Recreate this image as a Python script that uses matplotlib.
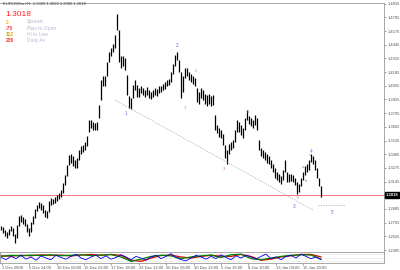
import matplotlib
matplotlib.use("Agg")
import matplotlib.pyplot as plt
import numpy as np

plt.rcParams['font.family'] = ['Liberation Sans', 'DejaVu Sans']

# ---- price bars (H1, sampled) ----
highs = [1.2723,1.2714,1.2685,1.2666,1.2695,1.2723,1.2704,1.2647,1.2733,1.2818,
         1.2828,1.2809,1.2790,1.2742,1.2704,1.2761,1.2818,1.2885,1.2923,1.2951,
         1.2942,1.2923,1.2875,1.2866,1.2961,1.2989,1.2980,1.2999,1.3018,1.3037,
         1.3065,1.3132,1.3208,1.3303,1.3398,1.3407,1.3388,1.3350,1.3369,1.3445,
         1.3483,1.3493,1.3521,1.3578,1.3730,1.3730,1.3711,1.3702,1.3711,1.3873,
         1.4110,1.4148,1.4148,1.4281,1.4376,1.4414,1.4452,1.4538,1.4737,1.4585,
         1.4338,1.4338,1.4319,1.4158,1.3958,1.3939,1.4063,1.4110,1.4063,1.4034,
         1.4053,1.4034,1.4015,1.4044,1.4015,1.3996,1.4015,1.4034,1.4025,1.4053,
         1.4053,1.4072,1.4091,1.4110,1.4120,1.4186,1.4262,1.4348,1.4376,1.4300,
         1.4186,1.4148,1.4224,1.4224,1.4186,1.4167,1.4148,1.4129,1.4034,1.3996,
         1.4034,1.4015,1.3977,1.3968,1.3977,1.3958,1.3968,1.3778,1.3683,1.3654,
         1.3635,1.3597,1.3493,1.3445,1.3502,1.3521,1.3540,1.3635,1.3730,1.3711,
         1.3683,1.3654,1.3749,1.3825,1.3768,1.3749,1.3730,1.3778,1.3749,1.3540,
         1.3464,1.3445,1.3426,1.3407,1.3388,1.3350,1.3312,1.3274,1.3236,1.3217,
         1.3198,1.3255,1.3350,1.3236,1.3217,1.3217,1.3208,1.3179,1.3141,1.3122,
         1.3179,1.3236,1.3293,1.3312,1.3350,1.3407,1.3388,1.3350,1.3274,1.3179,
         1.3103]
lows = [1.2685,1.2657,1.2628,1.2609,1.2638,1.2676,1.2628,1.2562,1.2609,1.2723,
        1.2761,1.2742,1.2723,1.2666,1.2628,1.2666,1.2742,1.2799,1.2866,1.2894,
        1.2875,1.2847,1.2809,1.2799,1.2856,1.2923,1.2932,1.2942,1.2961,1.2980,
        1.2999,1.3037,1.3113,1.3198,1.3303,1.3322,1.3293,1.3274,1.3274,1.3350,
        1.3407,1.3426,1.3445,1.3483,1.3616,1.3654,1.3635,1.3635,1.3635,1.3749,
        1.3920,1.4053,1.4053,1.4148,1.4281,1.4338,1.4376,1.4414,1.4585,1.4281,
        1.4224,1.4243,1.4205,1.3968,1.3844,1.3835,1.3939,1.4015,1.3949,1.3949,
        1.3987,1.3968,1.3949,1.3968,1.3939,1.3930,1.3949,1.3968,1.3958,1.3987,
        1.3996,1.4015,1.4025,1.4053,1.4063,1.4091,1.4167,1.4243,1.4300,1.4186,
        1.3939,1.3996,1.4129,1.4148,1.4110,1.4091,1.4072,1.4053,1.3901,1.3882,
        1.3939,1.3920,1.3882,1.3863,1.3882,1.3863,1.3873,1.3635,1.3607,1.3569,
        1.3559,1.3493,1.3369,1.3312,1.3407,1.3445,1.3464,1.3521,1.3616,1.3616,
        1.3588,1.3559,1.3635,1.3730,1.3692,1.3673,1.3654,1.3683,1.3635,1.3445,
        1.3388,1.3369,1.3350,1.3322,1.3312,1.3274,1.3236,1.3179,1.3160,1.3141,
        1.3122,1.3160,1.3236,1.3141,1.3141,1.3151,1.3141,1.3113,1.3027,1.3046,
        1.3103,1.3160,1.3208,1.3236,1.3255,1.3331,1.3312,1.3255,1.3179,1.3103,
        1.2999]
last_price = 1.3018

# trend lines (bar index, price)
trend_x = [57, 156]
trend_y = [1.3920, 1.2875]
proj_x = [158.5, 172]
proj_y = [1.2922, 1.2922]

# wave labels (bar index, price, text)
wave_major = [(62.5, 1.3793, "1"), (88, 1.4433, "2"), (146.5, 1.2908, "3"),
              (155, 1.3435, "4"), (165.5, 1.2847, "5")]
wave_minor = [(92, 1.3844, "1"), (97.5, 1.4196, "2"), (111.5, 1.3265, "3"),
              (123.5, 1.3806, "4"), (148.5, 1.2990, "5"),
              (151, 1.3284, "a"), (152.5, 1.3151, "b"), (154.5, 1.3398, "c")]

# y-axis labels
ytick_vals = [1.4835,1.4705,1.4575,1.4445,1.4315,1.4185,1.4055,1.3925,1.3795,
              1.3665,1.3535,1.3405,1.3275,1.3145,1.2885,1.2755,1.2625,1.2495]

# x-axis labels
xtick_labels = ["1 Dec 2008","5 Dec 14:00","10 Dec 08:00","15 Dec 02:00",
                "17 Dec 18:00","22 Dec 12:00","26 Dec 06:00","30 Dec 22:00",
                "5 Jan 16:00","8 Jan 10:00","13 Jan 04:00","15 Jan 20:00"]

# indicator lines
green_vals = [60,70,65,72,68,74,66,70,75,68,72,76,55,15,35,60,70,65,40,55,65,
              72,50,75,80,40,30,45,60,70,75,72,35]
red_vals = [65,62,70,66,74,70,72,64,72,78,70,78,70,25,15,45,68,72,55,45,60,70,
            62,60,78,60,25,35,55,65,78,78,55]
blue_vals = [50,30,60,40,70,35,55,25,65,45,30,70,50,35,60,80,45,30,55,70,40,65,
             35,50,75,55,30,60,45,25,55,70,40,60,85,50,30,20,45,70,55,35,60,40,
             75,50,30,65,45,70,55,35,60,80,40,55,30,60,70,45,80,60,40,55,30]

W, H = 400, 270
fig = plt.figure(figsize=(4.0, 2.7), dpi=100)
fig.patch.set_facecolor("white")

def fx(px):
    return px / W

def fy(py):
    return 1 - py / H

# main axes: pixels x 0..384, y 3..251
ax = fig.add_axes([0, fy(251), fx(384), (251 - 3) / H])
n = len(highs)
xi = np.arange(n)
ax.vlines(xi, lows, highs, color="black", lw=0.9)
ax.set_xlim(-0.5, 191.5)
ax.set_ylim(1.2486, 1.4841)

ax.axhline(last_price, color="#f08080", lw=0.8, zorder=0)
ax.plot(trend_x, trend_y, color="#b0b0b0", lw=0.6, ls=(0, (1.5, 1.5)))
ax.plot(proj_x, proj_y, color="#b0b0b0", lw=0.6, ls=(0, (1.5, 1.5)))

for x, y, t in wave_major:
    ax.text(x, y, t, color="#7070d0", fontsize=3.5, ha="center", va="center")
for x, y, t in wave_minor:
    ax.text(x, y, t, color="#d07090", fontsize=3, ha="center", va="center")

ax.yaxis.tick_right()
ax.set_yticks(ytick_vals)
ax.set_yticklabels([f"{v:.4f}" for v in ytick_vals])
ax.tick_params(axis="y", labelsize=3, length=1.5, width=0.4, pad=1,
               colors="#555555")
ax.set_xticks([])
for s in ["left", "bottom"]:
    ax.spines[s].set_visible(False)
for s in ["top", "right"]:
    ax.spines[s].set_color("#999999")
    ax.spines[s].set_linewidth(0.6)

# price tag
ax.text(1.004, (last_price - 1.2486) / (1.4841 - 1.2486), f"{last_price:.4f}",
        transform=ax.transAxes, fontsize=3, color="white", va="center",
        ha="left", fontweight="bold",
        bbox=dict(boxstyle="square,pad=0.15", fc="black", ec="black"))

# indicator panel: y 252..263
ax2 = fig.add_axes([0, fy(263), fx(384), (263 - 252) / H])
gx = np.arange(len(green_vals)) * 5
bx = np.arange(len(blue_vals)) * 2.5
for lvl in [20, 50, 80]:
    ax2.axhline(lvl, color="#c8c8c8", lw=0.4, ls=(0, (1, 1)))
ax2.plot(gx, red_vals, color="#e00000", lw=0.9)
ax2.plot(gx, green_vals, color="#008000", lw=0.9)
ax2.plot(bx, blue_vals, color="#0000e0", lw=0.6)
ax2.set_xlim(-0.5, 191.5)
ax2.set_ylim(0, 100)
ax2.set_yticks([])
tick_pos = 0.5 + np.arange(len(xtick_labels)) * 13.68
ax2.set_xticks(tick_pos)
ax2.set_xticklabels(xtick_labels, ha="left")
ax2.tick_params(axis="x", labelsize=3, length=1.5, width=0.4, pad=0.5,
                colors="#555555")
for s in ax2.spines.values():
    s.set_color("#999999")
    s.set_linewidth(0.6)

# header texts
fig.text(fx(3), fy(4), "EURUSDm,H1  1.3020 1.3020 1.3000 1.3018",
         fontsize=3, color="#444444", va="center", ha="left")
fig.text(fx(5), fy(14.5), "1.3018", fontsize=6, color="#ff2020",
         va="center", ha="left")
legend_rows = [("2", "#e0c000", "Spread", 22),
               ("-75", "#ff3030", "Pips to Open", 28.5),
               ("112", "#e0a000", "Hi to Low", 34.5),
               ("236", "#ff3030", "Daily Av", 40.5)]
for num, col, lab, py in legend_rows:
    fig.text(fx(6), fy(py), num, fontsize=3.6, color=col, va="center",
             ha="left", fontweight="bold")
    fig.text(fx(27), fy(py), lab, fontsize=3.6, color="#b8b8d8",
             va="center", ha="left")

fig.savefig("out.png", dpi=100, facecolor="white")
